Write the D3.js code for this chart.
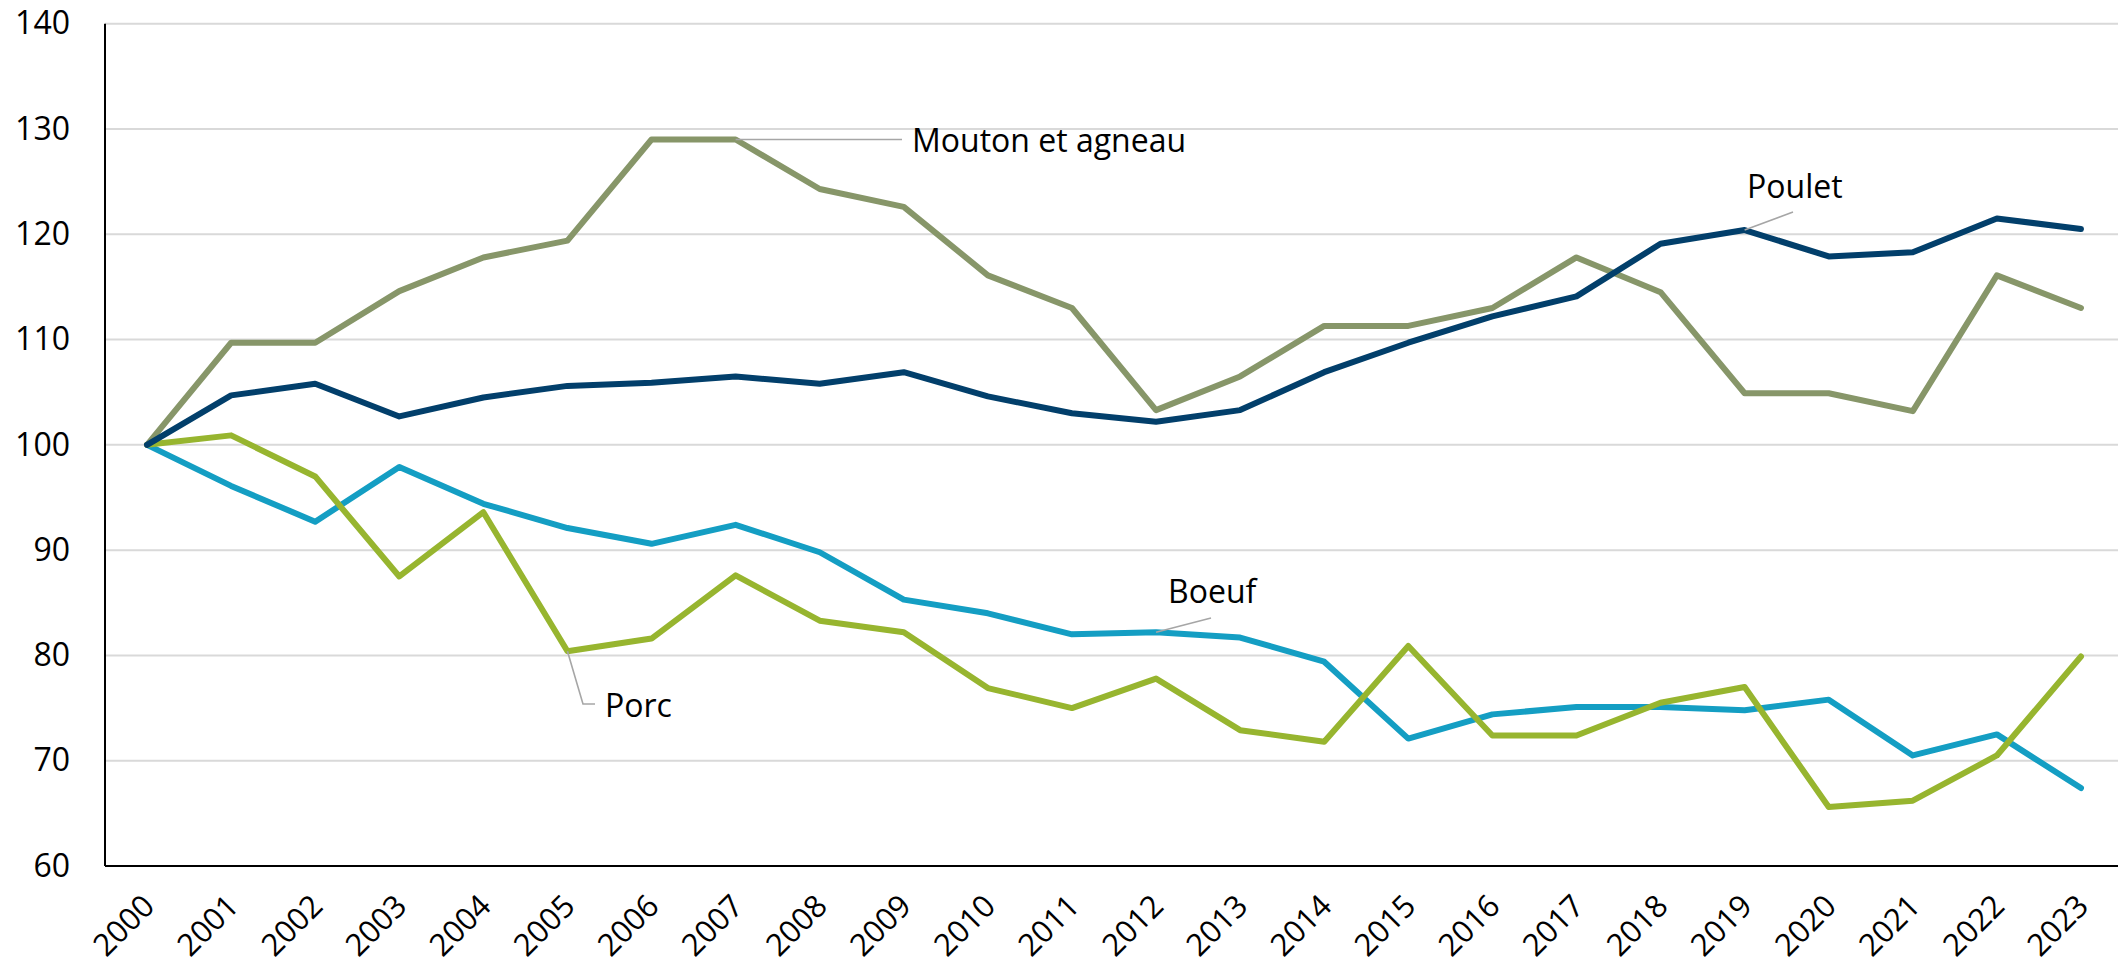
<!DOCTYPE html>
<html>
<head>
<meta charset="utf-8">
<script src="https://cdn.jsdelivr.net/npm/d3@7"></script>
<style>
  html, body { margin: 0; padding: 0; background: #fff; }
  svg { display: block; }
  text { font-family: "Open Sans", "Liberation Sans", sans-serif; fill: #000; }
</style>
</head>
<body>
<svg id="chart" width="2118" height="968"></svg>
<script>
// ---- Data ----
const years = ["2000","2001","2002","2003","2004","2005","2006","2007","2008","2009","2010","2011",
               "2012","2013","2014","2015","2016","2017","2018","2019","2020","2021","2022","2023"];
const yTicks = [60, 70, 80, 90, 100, 110, 120, 130, 140];

const moutonValues = [100, 109.7, 109.7, 114.6, 117.8, 119.4, 129.0, 129.0, 124.3, 122.6, 116.1, 113.0,
                      103.3, 106.5, 111.3, 111.3, 113.0, 117.8, 114.5, 104.9, 104.9, 103.2, 116.1, 113.0];
const pouletValues = [100, 104.7, 105.8, 102.7, 104.5, 105.6, 105.9, 106.5, 105.8, 106.9, 104.6, 103.0,
                      102.2, 103.3, 106.9, 109.7, 112.2, 114.1, 119.1, 120.4, 117.9, 118.3, 121.5, 120.5];
const boeufValues = [100, 96.1, 92.7, 97.9, 94.4, 92.1, 90.6, 92.4, 89.8, 85.3, 84.0, 82.0,
                     82.2, 81.7, 79.4, 72.1, 74.4, 75.1, 75.1, 74.8, 75.8, 70.5, 72.5, 67.4];
const porcValues = [100, 100.9, 97.0, 87.5, 93.6, 80.4, 81.6, 87.6, 83.3, 82.2, 76.9, 75.0,
                    77.8, 72.9, 71.8, 80.9, 72.4, 72.4, 75.5, 77.0, 65.6, 66.2, 70.5, 79.9];

const seriesNames = ["Boeuf", "Porc", "Mouton et agneau", "Poulet"];
const seriesValues = [boeufValues, porcValues, moutonValues, pouletValues];
const seriesColors = ["#149ec3", "#97b52f", "#879669", "#023f6b"];

// ---- Layout ----
const svg = d3.select("#chart");
const plotLeft = 105, plotRight = 2123, plotTop = 23.7, plotBottom = 866;

const x = d3.scalePoint().domain(years).range([plotLeft, plotRight]).padding(0.5);
const y = d3.scaleLinear().domain([60, 140]).range([plotBottom, plotTop]);

// gridlines
svg.append("g")
  .selectAll("line")
  .data(yTicks.filter(t => t > 60))
  .join("line")
  .attr("x1", plotLeft).attr("x2", 2118)
  .attr("y1", d => y(d)).attr("y2", d => y(d))
  .attr("stroke", "#d9d9d9").attr("stroke-width", 2);

// y axis labels
const yAxis = d3.axisLeft(y).tickValues(yTicks).tickSize(0).tickPadding(35).tickFormat(d3.format("d"));
const gy = svg.append("g").attr("transform", `translate(${plotLeft},0)`).call(yAxis);
gy.select(".domain").remove();
gy.selectAll("text").style("font-size", "32px").style("font-family", "'Open Sans', sans-serif").attr("fill", "#000");

// x axis labels
const xAxis = d3.axisBottom(x).tickSize(0).tickPadding(0);
const gx = svg.append("g").attr("transform", `translate(0,${plotBottom})`).call(xAxis);
gx.select(".domain").remove();
gx.selectAll("text")
  .style("font-size", "31px").style("font-family", "'Open Sans', sans-serif").attr("fill", "#000")
  .attr("text-anchor", "end")
  .attr("dominant-baseline", "middle")
  .attr("dy", null).attr("y", null)
  .attr("transform", "translate(3,36) rotate(-45)");

// axis lines
svg.append("line").attr("x1", plotLeft).attr("x2", plotLeft).attr("y1", plotTop).attr("y2", plotBottom)
  .attr("stroke", "#000").attr("stroke-width", 2);
svg.append("line").attr("x1", plotLeft).attr("x2", 2118).attr("y1", plotBottom).attr("y2", plotBottom)
  .attr("stroke", "#000").attr("stroke-width", 2);

// lines
const line = d3.line().x((d, i) => x(years[i])).y(d => y(d));
svg.append("g").selectAll("path")
  .data(seriesValues)
  .join("path")
  .attr("d", d => line(d))
  .attr("fill", "none")
  .attr("stroke", (d, i) => seriesColors[i])
  .attr("stroke-width", 6)
  .attr("stroke-linejoin", "round")
  .attr("stroke-linecap", "round");

// data labels with leader lines
const leader = svg.append("g").attr("stroke", "#a6a6a6").attr("stroke-width", 1.6).attr("fill", "none");
const labels = svg.append("g").style("font-size", "32px");

// Mouton et agneau (2007)
leader.append("path").attr("d", `M${x("2007")},${y(129.0)} H902`);
labels.append("text").attr("x", 912).attr("y", 152).text("Mouton et agneau");

// Poulet (2019)
leader.append("path").attr("d", `M${x("2019")},${y(120.4)} L1793,212`);
labels.append("text").attr("x", 1747).attr("y", 198).text("Poulet");

// Boeuf (2012)
leader.append("path").attr("d", `M${x("2012")},${y(82.2)} L1211,618`);
labels.append("text").attr("x", 1168).attr("y", 603).text("Boeuf");

// Porc (2005)
leader.append("path").attr("d", `M${x("2005")},${y(80.4)} L583,704 H595`);
labels.append("text").attr("x", 605).attr("y", 717).text("Porc");
</script>
</body>
</html>
